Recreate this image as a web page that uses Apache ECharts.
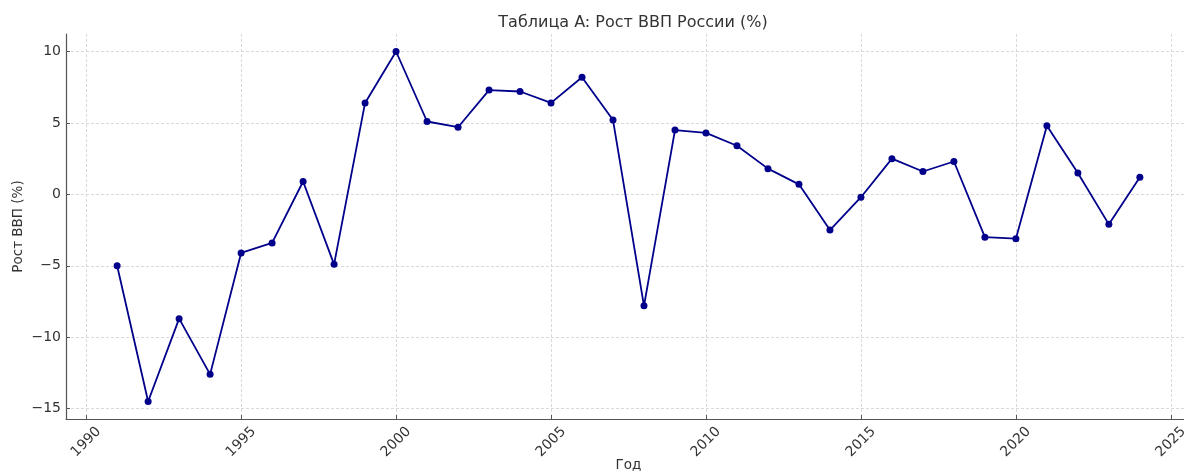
<!DOCTYPE html>
<html>
<head>
<meta charset="utf-8">
<script src="https://cdn.jsdelivr.net/npm/echarts@6/dist/echarts.min.js"></script>
<style>
html,body{margin:0;padding:0;background:#fff;}
#chart{width:1184px;height:473px;}
</style>
</head>
<body>
<div id="chart"></div>
<script>
const years = [1991,1992,1993,1994,1995,1996,1997,1998,1999,2000,2001,2002,2003,2004,2005,2006,2007,2008,2009,2010,2011,2012,2013,2014,2015,2016,2017,2018,2019,2020,2021,2022,2023,2024];
const gdpGrowth = [-5.0,-14.5,-8.7,-12.6,-4.1,-3.4,0.9,-4.9,6.4,10.0,5.1,4.7,7.3,7.2,6.4,8.2,5.2,-7.8,4.5,4.3,3.4,1.8,0.7,-2.5,-0.2,2.5,1.6,2.3,-3.0,-3.1,4.8,1.5,-2.1,1.2];
const xTicks = [1990,1995,2000,2005,2010,2015,2020,2025];
const yTicks = [-15,-10,-5,0,5,10];
const titleText = 'Таблица A: Рост ВВП России (%)';
const xName = 'Год';
const yName = 'Рост ВВП (%)';

const FONT = '"DejaVu Sans", sans-serif';
const TXT = '#333333';
const AX = '#555555';

const chart = echarts.init(document.getElementById('chart'), null, {renderer: 'canvas'});
chart.setOption({
  animation: false,
  backgroundColor: '#ffffff',
  title: {
    text: titleText,
    left: 628,
    top: 10,
    textAlign: 'center',
    textStyle: {fontFamily: FONT, fontSize: 16, fontWeight: 'normal', color: TXT}
  },
  graphic: [{
    type: 'text', left: 519, top: -15,
    style: {text: '(%)', fontFamily: FONT, fontSize: 16, fill: TXT}
  }],
  grid: {left: 66, right: -7, top: 34, bottom: 54, containLabel: false, outerBoundsMode: 'none'},
  xAxis: {
    type: 'value',
    min: 1989.35, max: 2025.65,
    name: xName, nameLocation: 'middle', nameGap: 39, nameMoveOverlap: false,
    nameTextStyle: {fontFamily: FONT, fontSize: 13.5, color: TXT},
    axisLine: {show: true, onZero: false, lineStyle: {color: AX, width: 1.2}},
    axisTick: {show: true, inside: true, length: 4, customValues: xTicks, lineStyle: {color: AX, width: 1}},
    axisLabel: {
      customValues: xTicks, rotate: 45, align: 'center', verticalAlign: 'middle', margin: 23,
      fontFamily: FONT, fontSize: 14, color: TXT,
      formatter: v => String(v)
    },
    splitLine: {show: true, lineStyle: {color: '#cfcfcf', width: 0.8, type: [3, 2]}}
  },
  yAxis: {
    type: 'value',
    min: -15.725, max: 11.225,
    name: yName, nameLocation: 'middle', nameGap: 41, nameRotate: 90, nameMoveOverlap: false,
    nameTextStyle: {fontFamily: FONT, fontSize: 13.5, color: TXT},
    axisLine: {show: true, onZero: false, lineStyle: {color: AX, width: 1.2}},
    axisTick: {show: true, inside: true, length: 4, customValues: yTicks, lineStyle: {color: AX, width: 1}},
    axisLabel: {
      customValues: yTicks, margin: 5,
      fontFamily: FONT, fontSize: 14, color: TXT,
      formatter: v => (v < 0 ? '\u2212' + Math.abs(v) : String(v))
    },
    splitLine: {show: true, lineStyle: {color: '#cfcfcf', width: 0.8, type: [3, 2]}}
  },
  series: [{
    type: 'line',
    data: years.map((y, i) => [y, gdpGrowth[i]]),
    symbol: 'circle',
    symbolSize: 7,
    lineStyle: {color: '#00008B', width: 1.8},
    itemStyle: {color: '#00008B'},
    clip: false
  }]
});
</script>
</body>
</html>
